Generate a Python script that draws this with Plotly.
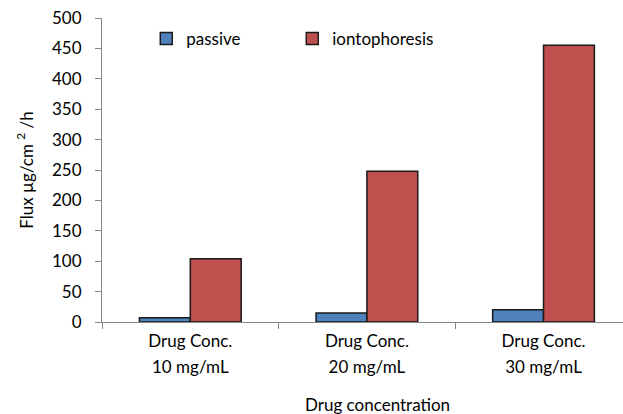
import plotly.graph_objects as go

categories = ["10 mg/mL", "20 mg/mL", "30 mg/mL"]
cat_prefix = ["Drug Conc.", "Drug Conc.", "Drug Conc."]
passive = [7, 15, 20]
iontophoresis = [104, 248, 455]
y_ticks = [0, 50, 100, 150, 200, 250, 300, 350, 400, 450, 500]

FONT = "Lato, 'Open Sans', sans-serif"
XR = [-0.5, 2.45]
BAR_W = 0.288

fig = go.Figure()
fig.add_trace(go.Bar(name="passive", x=categories, y=passive, xaxis="x",
                     width=BAR_W, offset=-BAR_W,
                     marker=dict(color="#4F81BD", line=dict(color="#1a1a1a", width=1.5))))
fig.add_trace(go.Bar(name="iontophoresis", x=categories, y=iontophoresis, xaxis="x2",
                     width=BAR_W, offset=0,
                     marker=dict(color="#C0504D", line=dict(color="#1a1a1a", width=1.5))))

fig.update_layout(
    width=623, height=414,
    margin=dict(l=102, r=0, t=18, b=92),
    paper_bgcolor="white", plot_bgcolor="white",
    font=dict(family=FONT, size=17, color="#000000"),
    barmode="overlay",
    showlegend=True,
    legend=dict(orientation="h", x=0.085, y=0.99, xanchor="left", yanchor="top",
                entrywidth=101, font=dict(size=17), bgcolor="rgba(0,0,0,0)"),
    xaxis=dict(type="category", range=XR, showline=True, linecolor="#868686",
               linewidth=1, ticks="outside", tickson="boundaries", ticklen=6,
               tickcolor="#868686", showgrid=False, tickfont=dict(size=17),
               tickmode="array", tickvals=categories, ticktext=cat_prefix,
               ticklabelstandoff=4),
    xaxis2=dict(type="category", range=XR, overlaying="x", anchor="y", side="bottom",
                showline=False, ticks="", showgrid=False, zeroline=False,
                tickfont=dict(size=17), tickmode="array", tickvals=categories,
                ticktext=categories, ticklabelstandoff=33,
                categoryorder="array", categoryarray=categories),
    yaxis=dict(range=[0, 500], tickvals=y_ticks, showline=True, linecolor="#868686",
               linewidth=1, ticks="outside", ticklen=6, tickcolor="#868686",
               showgrid=False, zeroline=False, tickfont=dict(size=17),
               ticklabelstandoff=10,
               title=dict(text="Flux µg/cm <sup>2</sup> /h", font=dict(size=17), standoff=14)),
    annotations=[dict(text="Drug concentration", xref="paper", yref="paper",
                      x=(377 - 102) / 521, y=-0.27, xanchor="center", yanchor="middle",
                      showarrow=False, font=dict(size=17))],
)

fig.write_html("out.html", config={"displayModeBar": False},
               post_script="document.body.style.margin='0';document.body.style.overflow='hidden';")
